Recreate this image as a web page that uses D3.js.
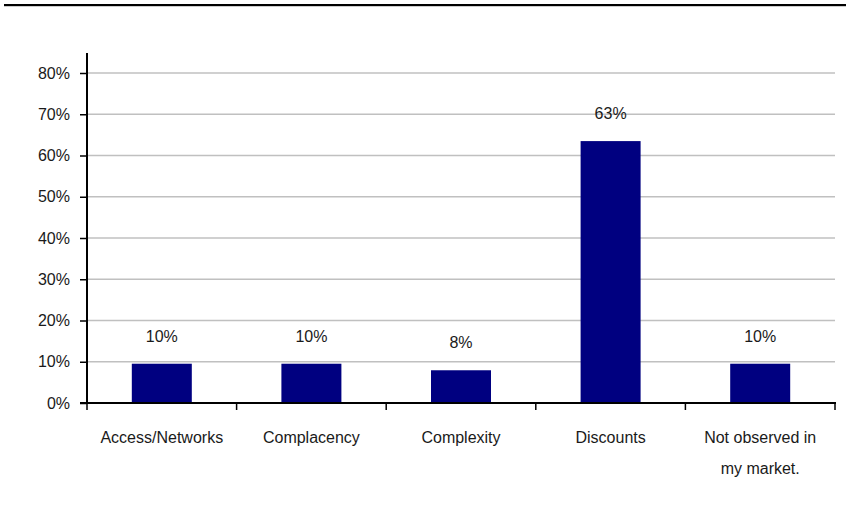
<!DOCTYPE html>
<html>
<head>
<meta charset="utf-8">
<script src="https://cdn.jsdelivr.net/npm/d3@7"></script>
<style>
  html, body { margin: 0; padding: 0; background: #fff; }
  svg { display: block; font-family: "Liberation Sans", Arial, sans-serif; }
</style>
</head>
<body>
<svg id="chart" width="846" height="512"></svg>
<script>
// Survey responses (share of respondents)
const categories = ["Access/Networks", "Complacency", "Complexity", "Discounts", "Not observed in|my market."];
const shares = [6 / 63, 6 / 63, 5 / 63, 40 / 63, 6 / 63];
const yTicks = [0, 0.1, 0.2, 0.3, 0.4, 0.5, 0.6, 0.7, 0.8];

const svg = d3.select("#chart");
const margin = { left: 87, right: 11, top: 53, bottom: 109 };
const width = 846, height = 512;
const fontSize = 16;

const x = d3.scaleBand().domain(categories).range([margin.left, width - margin.right]).paddingInner(0).paddingOuter(0);
const y = d3.scaleLinear().domain([0, 0.8]).range([height - margin.bottom, 73]);
const pct = d3.format(".0%");

// top rule
svg.append("rect").attr("x", 4).attr("y", 4).attr("width", width - 4).attr("height", 2.2).attr("fill", "#000");

// gridlines
svg.append("g").selectAll("line").data(yTicks.slice(1)).join("line")
  .attr("x1", margin.left).attr("x2", width - margin.right)
  .attr("y1", d => y(d)).attr("y2", d => y(d))
  .attr("stroke", "#c0c0c0").attr("stroke-width", 1.5);

// bars
const barW = 60;
svg.append("g").selectAll("rect").data(categories).join("rect")
  .attr("x", d => x(d) + x.bandwidth() / 2 - barW / 2)
  .attr("width", barW)
  .attr("y", (d, i) => y(shares[i]))
  .attr("height", (d, i) => y(0) - y(shares[i]))
  .attr("fill", "#000080");

// value labels
svg.append("g").selectAll("text").data(categories).join("text")
  .attr("x", d => x(d) + x.bandwidth() / 2)
  .attr("y", (d, i) => y(shares[i]) - 22)
  .attr("text-anchor", "middle")
  .attr("font-size", fontSize).attr("fill", "#1a1a1a")
  .text((d, i) => pct(shares[i]));

// y axis
const yAxis = svg.append("g").attr("transform", `translate(${margin.left},0)`)
  .call(d3.axisLeft(y).tickValues(yTicks).tickFormat(pct).tickSize(7).tickPadding(10));
yAxis.select(".domain").remove();
yAxis.selectAll(".tick line").attr("stroke", "#000").attr("stroke-width", 1.5);
yAxis.selectAll(".tick text").attr("font-size", fontSize).attr("fill", "#1a1a1a").attr("font-family", "Liberation Sans, Arial, sans-serif");
svg.append("line").attr("x1", margin.left).attr("x2", margin.left).attr("y1", 53).attr("y2", y(0) + 1)
  .attr("stroke", "#000").attr("stroke-width", 2);

// x axis
const xAxisY = y(0);
svg.append("line").attr("x1", margin.left - 7).attr("x2", width - margin.right + 1).attr("y1", xAxisY).attr("y2", xAxisY)
  .attr("stroke", "#000").attr("stroke-width", 2);
const bounds = categories.map(d => x(d)).concat([x(categories[categories.length - 1]) + x.bandwidth()]);
svg.append("g").selectAll("line").data(bounds).join("line")
  .attr("x1", d => d).attr("x2", d => d).attr("y1", xAxisY).attr("y2", xAxisY + 7)
  .attr("stroke", "#000").attr("stroke-width", 1.5);

// category labels
const catText = svg.append("g").selectAll("text").data(categories).join("text")
  .attr("x", d => x(d) + x.bandwidth() / 2)
  .attr("y", 443)
  .attr("text-anchor", "middle")
  .attr("font-size", fontSize).attr("fill", "#1a1a1a");
catText.each(function (d) {
  const lines = d.split("|");
  d3.select(this).selectAll("tspan").data(lines).join("tspan")
    .attr("x", x(d) + x.bandwidth() / 2)
    .attr("dy", (l, i) => i === 0 ? 0 : 31)
    .text(l => l);
});
</script>
</body>
</html>
